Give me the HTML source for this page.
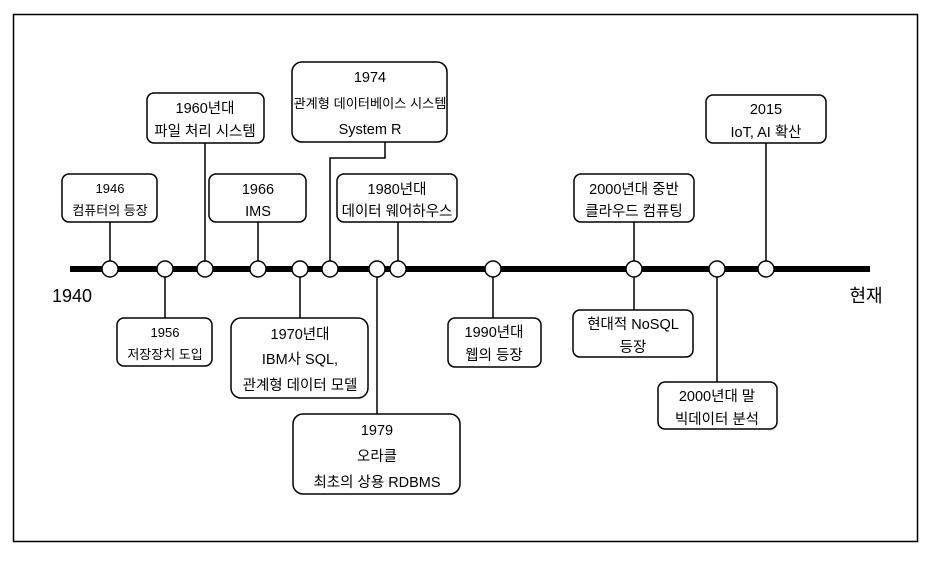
<!DOCTYPE html>
<html><head><meta charset="utf-8"><style>
html,body{margin:0;padding:0;background:#fff;}
svg{display:block;}
text{font-family:"Liberation Sans","Noto Sans CJK KR",sans-serif;fill:#000;text-anchor:middle;}
</style></head><body>
<svg width="941" height="565" viewBox="0 0 941 565" xmlns="http://www.w3.org/2000/svg">
<rect x="13.5" y="14.5" width="904" height="527" fill="#fff" stroke="#000" stroke-width="1.5"/>
<g stroke="#000" stroke-width="1.5" fill="none">
<line x1="110" y1="222" x2="110" y2="269"/>
<line x1="165" y1="269" x2="165" y2="318"/>
<line x1="205" y1="143" x2="205" y2="269"/>
<line x1="258" y1="222" x2="258" y2="269"/>
<line x1="300" y1="269" x2="300" y2="318"/>
<polyline points="385,142 385,158 330,158 330,269"/>
<line x1="377" y1="269" x2="377" y2="414"/>
<line x1="398" y1="222" x2="398" y2="269"/>
<line x1="493" y1="269" x2="493" y2="318"/>
<line x1="634" y1="222" x2="634" y2="310"/>
<line x1="717" y1="269" x2="717" y2="382"/>
<line x1="766" y1="143" x2="766" y2="269"/>
</g>
<rect x="70" y="266" width="800" height="6" fill="#000"/>
<g fill="#fff" stroke="#000" stroke-width="1.5">
<circle cx="110" cy="269" r="8"/><circle cx="165" cy="269" r="8"/><circle cx="205" cy="269" r="8"/>
<circle cx="258" cy="269" r="8"/><circle cx="300" cy="269" r="8"/><circle cx="330" cy="269" r="8"/>
<circle cx="377" cy="269" r="8"/><circle cx="398" cy="269" r="8"/><circle cx="493" cy="269" r="8"/>
<circle cx="634" cy="269" r="8"/><circle cx="717" cy="269" r="8"/><circle cx="766" cy="269" r="8"/>
<rect x="62" y="174" width="95" height="48" rx="7"/>
<rect x="147" y="93" width="117" height="50" rx="7"/>
<rect x="209" y="174" width="97" height="48" rx="7"/>
<rect x="292" y="62" width="155" height="80" rx="10"/>
<rect x="337" y="174" width="120" height="48" rx="7"/>
<rect x="574" y="174" width="120" height="48" rx="7"/>
<rect x="706" y="95" width="120" height="48" rx="7"/>
<rect x="117" y="318" width="95" height="48" rx="7"/>
<rect x="231" y="318" width="137" height="80" rx="10"/>
<rect x="293" y="414" width="167" height="80" rx="10"/>
<rect x="448" y="318" width="93" height="49" rx="7"/>
<rect x="573" y="310" width="120" height="47" rx="7"/>
<rect x="658" y="382" width="119" height="47" rx="7"/>
</g>
<g font-size="13">
<text x="110" y="193">1946</text><text x="110" y="215">컴퓨터의 등장</text>
<text x="165" y="337">1956</text><text x="165" y="359">저장장치 도입</text>
</g>
<g font-size="14.5">
<text x="205" y="113">1960년대</text><text x="205" y="136">파일 처리 시스템</text>
<text x="258" y="194">1966</text><text x="258" y="216">IMS</text>
<text x="370" y="82">1974</text><text x="370" y="108" font-size="13.2">관계형 데이터베이스 시스템</text><text x="370" y="134">System R</text>
<text x="397" y="194">1980년대</text><text x="397" y="216">데이터 웨어하우스</text>
<text x="634" y="194">2000년대 중반</text><text x="634" y="216">클라우드 컴퓨팅</text>
<text x="766" y="114">2015</text><text x="766" y="137">IoT, AI 확산</text>
<text x="300" y="339">1970년대</text><text x="300" y="364">IBM사 SQL,</text><text x="300" y="390">관계형 데이터 모델</text>
<text x="377" y="435">1979</text><text x="377" y="461">오라클</text><text x="377" y="487">최초의 상용 RDBMS</text>
<text x="494" y="337">1990년대</text><text x="494" y="360">웹의 등장</text>
<text x="633" y="329">현대적 NoSQL</text><text x="633" y="352">등장</text>
<text x="717" y="401">2000년대 말</text><text x="717" y="424">빅데이터 분석</text>
</g>
<text x="72" y="302" font-size="18">1940</text>
<text x="866" y="302" font-size="18">현재</text>
</svg>
</body></html>
